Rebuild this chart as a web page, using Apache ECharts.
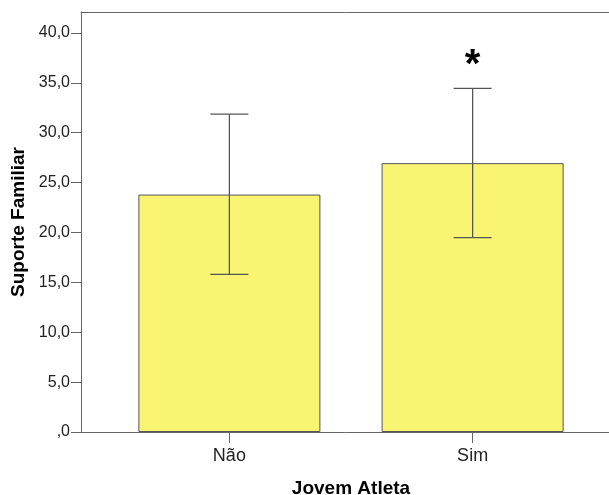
<!DOCTYPE html>
<html><head><meta charset="utf-8">
<script src="https://cdn.jsdelivr.net/npm/echarts@6/dist/echarts.min.js"></script>
<style>html,body{margin:0;padding:0;background:#fff;overflow:hidden}#c{width:609px;height:495px}</style>
</head><body><div id="c"></div>
<script>
const categories = ['Não', 'Sim'];
const means = [23.8, 26.95];
const errLower = [15.8, 19.48];
const errUpper = [31.87, 34.44];
const significance = ['', '*'];
const yTicks = [0, 5, 10, 15, 20, 25, 30, 35, 40];
const yMax = 42.1;

const FONT = '"Liberation Sans", Arial, sans-serif';
const AX = '#666666';
const chart = echarts.init(document.getElementById('c'), null, {renderer: 'canvas'});

const barData = means.map((m, i) => [i, m]);
const errData = means.map((m, i) => [i, errLower[i], errUpper[i], m]);

chart.setOption({
  animation: false,
  grid: {left: 81, right: -12, top: 12, bottom: 63, show: false, outerBoundsMode: 'none', containLabel: false},
  xAxis: [{
    type: 'value', min: -0.61, max: 1.61,
    name: 'Jovem Atleta', nameLocation: 'middle', nameGap: 47,
    nameTextStyle: {fontFamily: FONT, fontWeight: 'bold', fontSize: 19, color: '#000'},
    splitLine: {show: false},
    axisLine: {show: true, onZero: false, lineStyle: {color: AX}},
    axisTick: {show: true, length: 11, customValues: [0, 1], lineStyle: {color: AX}},
    axisLabel: {customValues: [0, 1], formatter: v => categories[Math.round(v)], fontFamily: FONT, fontSize: 18, color: '#222', margin: 15}
  }, {
    type: 'value', position: 'top', min: -0.61, max: 1.61,
    splitLine: {show: false},
    axisLine: {show: true, onZero: false, lineStyle: {color: AX}},
    axisTick: {show: false}, axisLabel: {show: false}
  }],
  yAxis: {
    type: 'value', min: 0, max: yMax,
    name: 'Suporte Familiar', nameLocation: 'middle', nameGap: 42,
    nameTextStyle: {fontFamily: FONT, fontWeight: 'bold', fontSize: 19, color: '#000'},
    splitLine: {show: false},
    axisLine: {show: true, onZero: false, lineStyle: {color: AX}},
    axisTick: {show: true, length: 10, customValues: yTicks, lineStyle: {color: AX}},
    axisLabel: {customValues: yTicks, fontFamily: FONT, fontSize: 16, color: '#222', margin: 11,
      formatter: v => v === 0 ? ',0' : v.toFixed(1).replace('.', ',')}
  },
  series: [
    {
      type: 'bar', data: barData, barWidth: 182,
      itemStyle: {color: '#f9f572', borderColor: '#555555', borderWidth: 1}
    },
    {
      type: 'custom', data: errData, z: 5,
      renderItem: function (params, api) {
        const x = api.value(0);
        const lo = api.coord([x, api.value(1)]);
        const hi = api.coord([x, api.value(2)]);
        const cap = 19;
        const st = {stroke: '#555555', lineWidth: 1.3};
        const children = [
          {type: 'line', shape: {x1: lo[0], y1: lo[1], x2: hi[0], y2: hi[1]}, style: st},
          {type: 'line', shape: {x1: lo[0] - cap, y1: lo[1], x2: lo[0] + cap, y2: lo[1]}, style: st},
          {type: 'line', shape: {x1: hi[0] - cap, y1: hi[1], x2: hi[0] + cap, y2: hi[1]}, style: st}
        ];
        const s = significance[params.dataIndex];
        if (s) {
          children.push({type: 'text', x: hi[0], y: hi[1] - 22,
            style: {text: s, fill: '#000', font: 'bold 40px ' + FONT, align: 'center', verticalAlign: 'middle'}});
        }
        return {type: 'group', children: children};
      }
    }
  ]
});
</script></body></html>
